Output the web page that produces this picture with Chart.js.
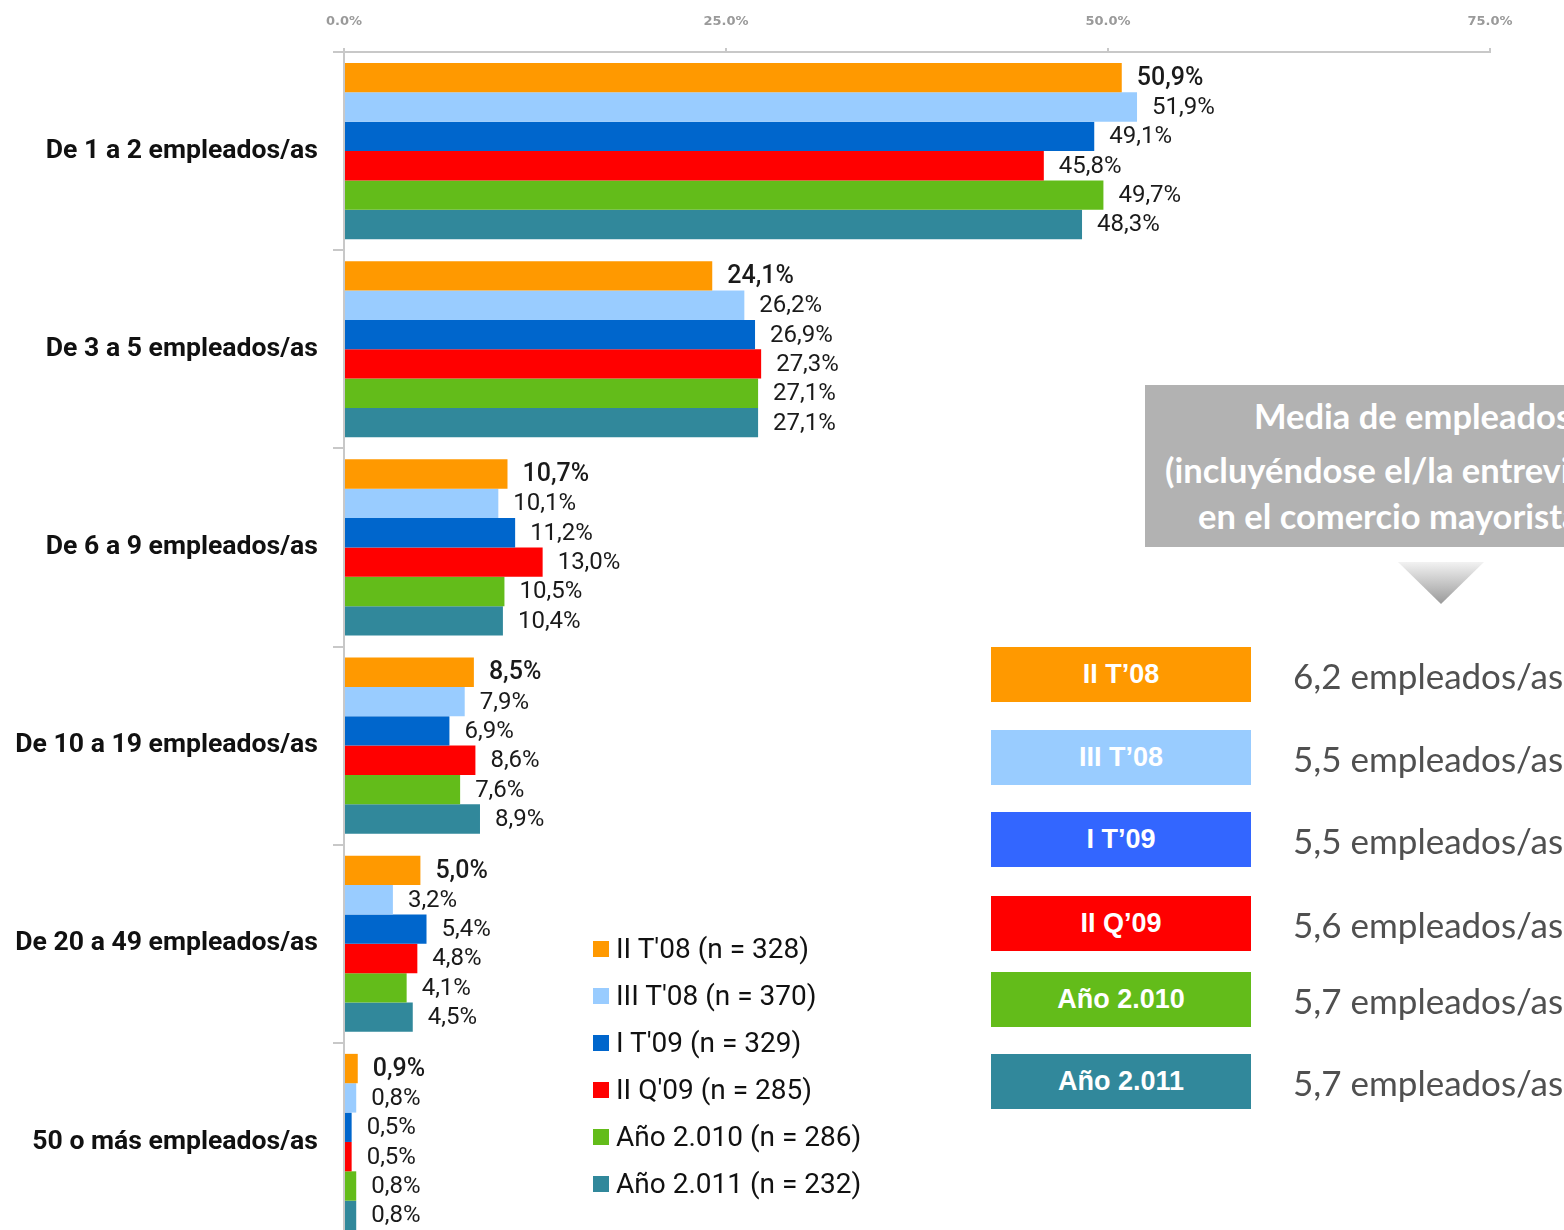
<!DOCTYPE html>
<html><head><meta charset="utf-8">
<script src="https://cdn.jsdelivr.net/npm/chart.js@4/dist/chart.umd.min.js"></script>
<style>
html,body{margin:0;padding:0;background:#fff;width:1564px;height:1230px;overflow:hidden;}
#wrap{position:absolute;left:0;top:0;width:1564px;height:1272px;}
#legend{position:absolute;left:593px;top:925px;font-family:Roboto,sans-serif;}
.lg{height:47px;display:flex;align-items:center;font-size:28px;color:#111;}
.lg span.sw{display:inline-block;width:16px;height:16px;margin-right:7px;}
#panel{position:absolute;left:1145px;top:385px;width:600px;height:162px;background:#b2b2b2;overflow:hidden;}
.pl{position:absolute;white-space:nowrap;color:#fff;font-family:Lato,"Open Sans",sans-serif;font-weight:bold;font-size:34.5px;}
#tri{position:absolute;left:1398px;top:562px;width:86px;height:42px;clip-path:polygon(0 0,100% 0,50% 100%);background:linear-gradient(#f2f2f2,#9a9a9a);}
.mb{position:absolute;left:991px;width:260px;height:55px;color:#fff;font-family:"Liberation Sans",Arial,sans-serif;font-weight:bold;font-size:27px;display:flex;align-items:center;justify-content:center;}
.mv{position:absolute;left:1293px;height:55px;display:flex;align-items:center;white-space:nowrap;color:#505050;font-family:Lato,"Open Sans",sans-serif;font-size:35px;}
</style></head>
<body>
<div id="wrap"><canvas id="c" width="1564" height="1272"></canvas></div>
<div id="legend"></div>
<div id="panel">
  <div class="pl" style="left:109px;top:10px;">Media de empleados/as</div>
  <div class="pl" style="left:20px;top:64px;">(incluyéndose el/la entrevistado/a)</div>
  <div class="pl" style="left:53px;top:110px;">en el comercio mayorista</div>
</div>
<div id="tri"></div>
<div id="means"></div>
<script>
const categories = ["De 1 a 2 empleados/as","De 3 a 5 empleados/as","De 6 a 9 empleados/as","De 10 a 19 empleados/as","De 20 a 49 empleados/as","50 o más empleados/as"];
const seriesNames = ["II T'08 (n = 328)","III T'08 (n = 370)","I T'09 (n = 329)","II Q'09 (n = 285)","Año 2.010 (n = 286)","Año 2.011 (n = 232)"];
const seriesColors = ["#ff9900","#99ccff","#0066cc","#ff0000","#63bc1a","#31889b"];
const sIIT08  = [50.9, 24.1, 10.7, 8.5, 5.0, 0.9];
const sIIIT08 = [51.9, 26.2, 10.1, 7.9, 3.2, 0.8];
const sIT09   = [49.1, 26.9, 11.2, 6.9, 5.4, 0.5];
const sIIQ09  = [45.8, 27.3, 13.0, 8.6, 4.8, 0.5];
const s2010   = [49.7, 27.1, 10.5, 7.6, 4.1, 0.8];
const s2011   = [48.3, 27.1, 10.4, 8.9, 4.5, 0.8];
const xTicks = [0, 25, 50, 75];
const meanLabels = ["II T’08","III T’08","I T’09","II Q’09","Año 2.010","Año 2.011"];
const meanValues = ["6,2 empleados/as","5,5 empleados/as","5,5 empleados/as","5,6 empleados/as","5,7 empleados/as","5,7 empleados/as"];
const meanColors = ["#ff9900","#99ccff","#3366ff","#ff0000","#63bc1a","#31889b"];
const meanTops = [647,730,812,896,972,1054];

const allSeries = [sIIT08,sIIIT08,sIT09,sIIQ09,s2010,s2011];
const FONT = 'Roboto, sans-serif';

const valueLabels = {
  id:'valueLabels',
  afterDatasetsDraw(chart){
    const ctx = chart.ctx;
    ctx.save();
    ctx.textBaseline='middle';
    ctx.textAlign='left';
    ctx.fillStyle='#1a1a1a';
    chart.data.datasets.forEach((ds,di)=>{
      const meta = chart.getDatasetMeta(di);
      meta.data.forEach((bar,i)=>{
        ctx.font = (di===0?'500 25px ':'24px ') + FONT;
        const txt = ds.data[i].toFixed(1).replace('.',',') + '%';
        ctx.fillText(txt, bar.x + 15, bar.y + 1);
      });
    });
    ctx.restore();
  }
};

new Chart(document.getElementById('c'), {
  type:'bar',
  data:{
    labels:categories,
    datasets: allSeries.map((d,i)=>({label:seriesNames[i], data:d, backgroundColor:seriesColors[i], borderWidth:0, categoryPercentage:0.889, barPercentage:1}))
  },
  options:{
    indexAxis:'y',
    responsive:false,
    animation:false,
    layout:{padding:{left:0,right:74,top:0,bottom:10}},
    plugins:{legend:{display:false},tooltip:{enabled:false}},
    scales:{
      x:{
        position:'top', min:0, max:75,
        afterBuildTicks(s){ s.ticks = xTicks.map(v=>({value:v})); },
        afterFit(s){ s.height = 52; },
        ticks:{ padding:19, color:'#9a9a9a', font:{size:13, weight:'bold', family:'"DejaVu Sans",sans-serif'}, callback:v=>Number(v).toFixed(1)+'%' },
        grid:{ drawOnChartArea:false, tickLength:4, color:'#c8c8c8', lineWidth:2 },
        border:{ color:'#c8c8c8', width:2 }
      },
      y:{
        afterFit(s){ s.width = 344; },
        ticks:{ padding:15, color:'#111', font:{size:26.6, family:FONT, weight:'bold'} },
        grid:{ drawOnChartArea:false, offset:true, tickLength:11, color:'#c8c8c8', lineWidth:2 },
        border:{ color:'#c8c8c8', width:2 }
      }
    }
  },
  plugins:[valueLabels]
});

// HTML legend built from the series arrays
const lg = document.getElementById('legend');
seriesNames.forEach((n,i)=>{
  const d=document.createElement('div'); d.className='lg';
  const sw=document.createElement('span'); sw.className='sw'; sw.style.background=seriesColors[i];
  d.appendChild(sw); d.appendChild(document.createTextNode(n)); lg.appendChild(d);
});
// Mean panel
const mb = document.getElementById('means');
meanLabels.forEach((l,i)=>{
  const b=document.createElement('div'); b.className='mb'; b.style.top=meanTops[i]+'px'; b.style.background=meanColors[i]; b.textContent=l; mb.appendChild(b);
  const v=document.createElement('div'); v.className='mv'; v.style.top=meanTops[i]+'px'; v.textContent=meanValues[i]; mb.appendChild(v);
});
</script>
</body></html>
